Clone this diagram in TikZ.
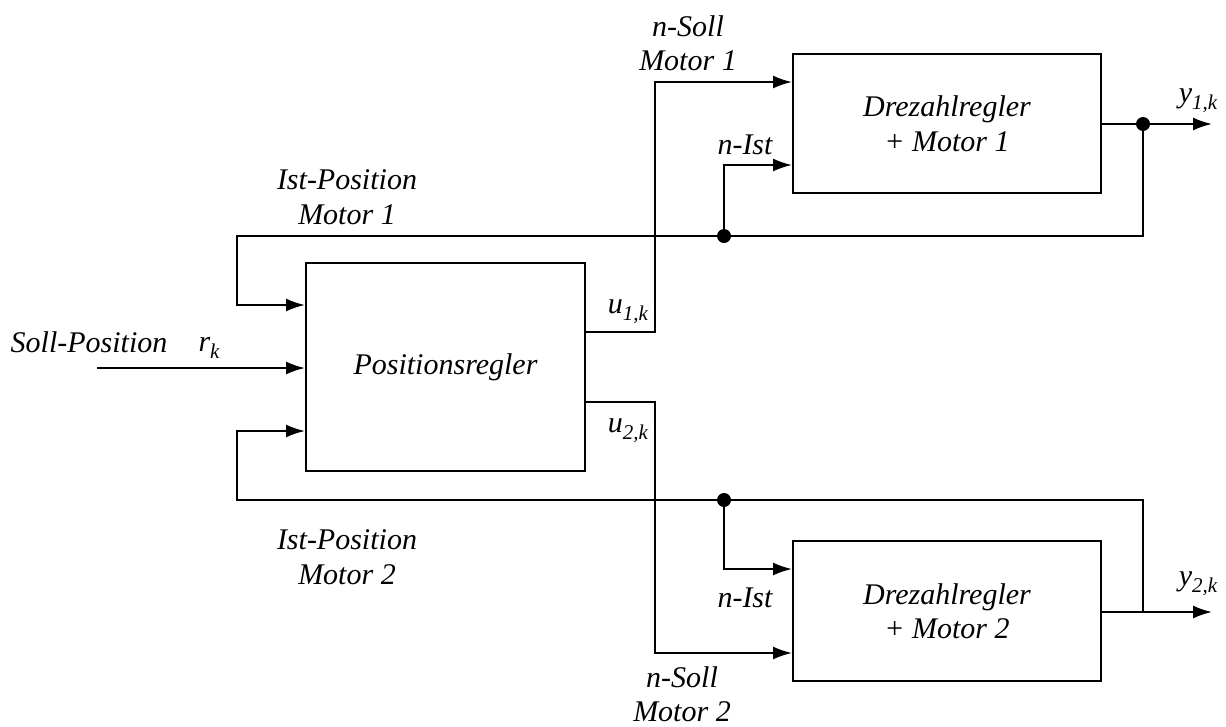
\documentclass[tikz,border=0pt]{standalone}
\usepackage{fontspec}
\setmainfont{Liberation Serif}
\usetikzlibrary{arrows.meta,calc}
% index with a lowered, smaller subscript
\newcommand\lowidx[2]{#1\raisebox{-7pt}{\fontsize{21}{21}\selectfont #2}}
\begin{document}
\begin{tikzpicture}[x=1pt,y=-1pt,
  every node/.style={font=\fontsize{30}{34.5}\selectfont\itshape},
  block/.style={draw,line width=2pt,align=center,inner sep=0pt},
  wire/.style={line width=2pt},
  sig/.style={wire,-{Latex[length=19pt,width=13pt]}},
  junction/.style={fill,circle,inner sep=0pt,minimum size=14pt},
  lbl/.style={align=center,inner sep=0pt}]
\useasboundingbox (0,0) rectangle (1226,726);

% blocks
\node[block,minimum width=279pt,minimum height=208pt] (pos) at (445.5,367) {Positionsregler};
\node[block,minimum width=308pt,minimum height=139pt] (m1) at (947,123.5) {Drezahlregler\\+ Motor 1};
\node[block,minimum width=308pt,minimum height=140pt] (m2) at (947,611) {Drezahlregler\\+ Motor 2};

% auxiliary points
\coordinate (in) at (97,368);
\coordinate (y1) at (1212,124);
\coordinate (y2) at (1212,612);
\coordinate (b1) at (1143,124);
\coordinate (b2) at (1143,612);
\coordinate (j1) at (724,236);
\coordinate (j2) at (724,500);

% reference input
\draw[sig] (in) -- (pos.west |- in);

% speed setpoints
\draw[sig] (pos.east |- 0,332) -| (655,82) -- (m1.west |- 0,82);
\draw[sig] (pos.east |- 0,402) -| (655,653) -- (m2.west |- 0,653);

% outputs
\draw[sig] (m1.east |- y1) -- (y1);
\draw[sig] (m2.east |- y2) -- (y2);

% position feedback motor 1
\draw[wire] (b1) |- (j1);
\draw[sig] (j1) -- (237,236) |- (pos.west |- 0,305);
\draw[sig] (j1) |- (m1.west |- 0,165);
\node[junction] (d1) at (b1) {};
\node[junction] (d2) at (j1) {};

% position feedback motor 2
\draw[wire] (b2) |- (j2);
\draw[sig] (j2) -- (237,500) |- (pos.west |- 0,431);
\draw[sig] (j2) |- (m2.west |- 0,569);
\node[junction] (d3) at (j2) {};

% labels
\node[lbl] (tsp) at (89,342) {Soll-Position};
\node[lbl] (trk) at (209,348) {\lowidx{r}{k}};
\node[lbl] (tip1) at (347,197) {Ist-Position\\Motor 1};
\node[lbl] (tip2) at (347,557) {Ist-Position\\Motor 2};
\node[lbl] (tu1) at (628,312) {\lowidx{u}{1,k}};
\node[lbl] (tu2) at (628,431) {\lowidx{u}{2,k}};
\node[lbl] (tns1) at (688,43) {n-Soll\\Motor 1};
\node[lbl] (tns2) at (682,694) {n-Soll\\Motor 2};
\node[lbl] (tni1) at (745,145) {n-Ist};
\node[lbl] (tni2) at (745,598) {n-Ist};
\node[lbl] (ty1) at (1198,101) {\lowidx{y}{1,k}};
\node[lbl] (ty2) at (1198,584) {\lowidx{y}{2,k}};
\end{tikzpicture}
\end{document}
